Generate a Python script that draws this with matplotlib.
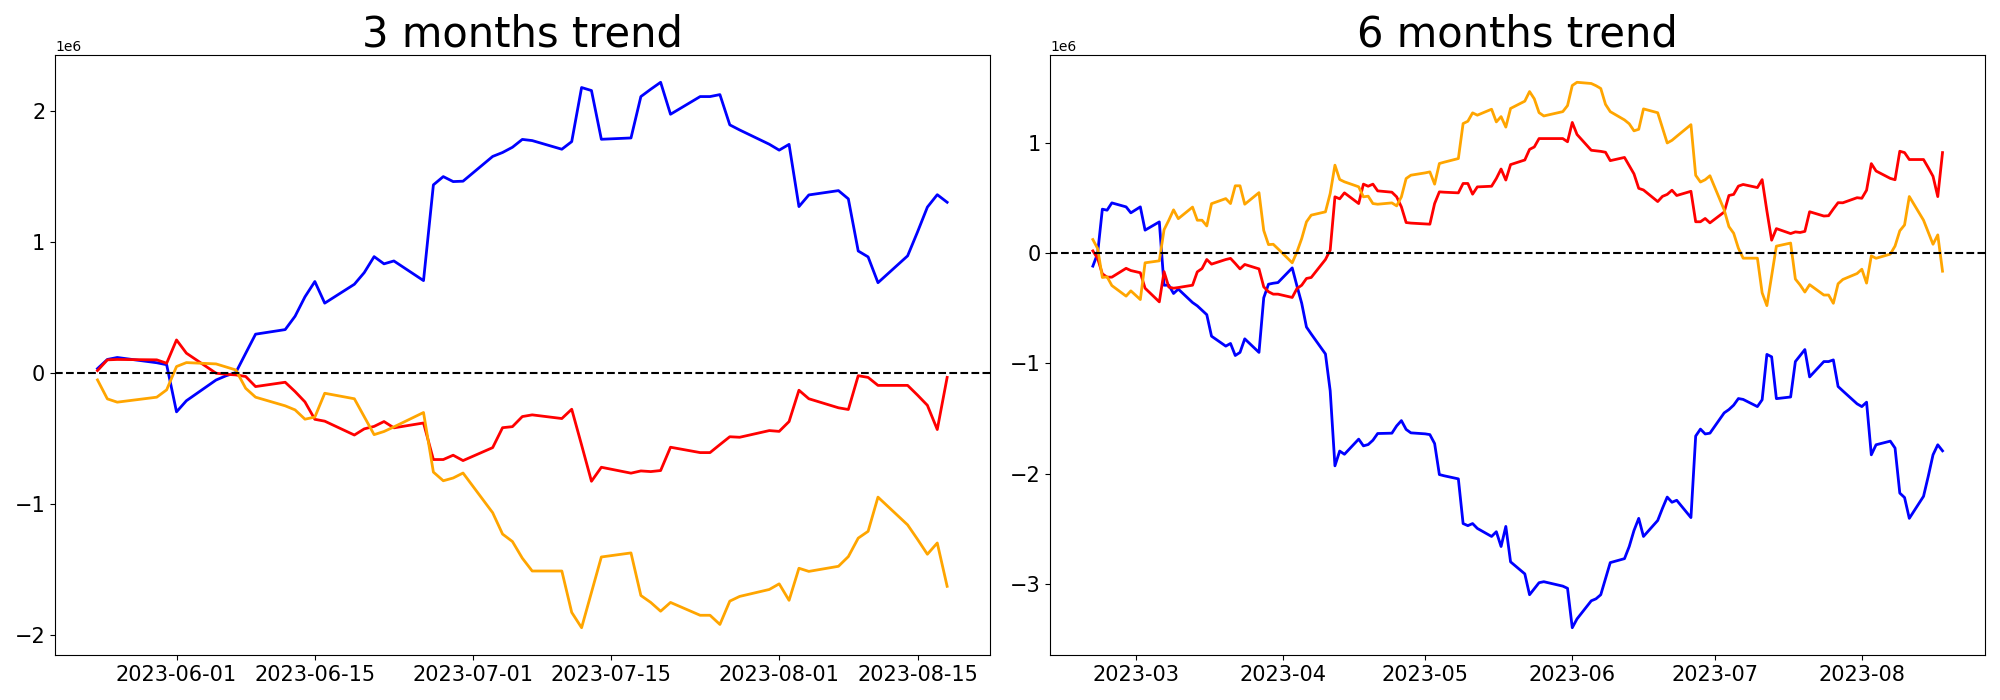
import matplotlib
matplotlib.use("Agg")
import matplotlib.pyplot as plt
import matplotlib.dates as mdates
import numpy as np
import pandas as pd

# ---------------- data (values in units of 1e6) ----------------
dates_3m = pd.bdate_range("2023-05-24", "2023-08-18", freq="C", holidays=["2023-05-29"])
dates_6m = pd.bdate_range("2023-02-20", "2023-08-18", freq="C", holidays=["2023-05-29"])

blue_3m = [0.03, 0.10, 0.115, 0.075, 0.06,
           -0.30, -0.215,
           -0.057, -0.025, 0.0, 0.147, 0.293,
           0.328, 0.43, 0.578, 0.695, 0.53,
           0.674, 0.763, 0.885, 0.83, 0.852,
           0.702, 1.433, 1.496, 1.458, 1.461,
           1.65, 1.68, 1.72, 1.78, 1.771,
           1.705, 1.763, 2.176, 2.153, 1.781,
           1.791, 2.107, 2.163, 2.216, 1.972,
           2.107, 2.107, 2.122, 1.891, 1.852,
           1.743, 1.698, 1.742, 1.267, 1.356,
           1.389, 1.326, 0.928, 0.883, 0.686,
           0.891, 1.073, 1.263, 1.358, 1.300]

red_3m = [0.015, 0.097, 0.10, 0.097, 0.071,
          0.249, 0.148,
          -0.005, -0.013, -0.018, -0.03, -0.107,
          -0.074, -0.145, -0.224, -0.357, -0.371,
          -0.477, -0.43, -0.411, -0.374, -0.422,
          -0.385, -0.664, -0.664, -0.631, -0.672,
          -0.573, -0.421, -0.413, -0.336, -0.323,
          -0.351, -0.28, -0.553, -0.83, -0.723,
          -0.768, -0.751, -0.756, -0.748, -0.57,
          -0.611, -0.611, -0.55, -0.49, -0.494,
          -0.443, -0.449, -0.374, -0.135, -0.2,
          -0.269, -0.282, -0.024, -0.037, -0.098,
          -0.098, -0.172, -0.25, -0.435, -0.037]

orange_3m = [-0.056, -0.201, -0.226, -0.188, -0.132,
             0.046, 0.076,
             0.066, 0.043, 0.02, -0.12, -0.188,
             -0.254, -0.285, -0.356, -0.34, -0.158,
             -0.2, -0.337, -0.474, -0.45, -0.415,
             -0.305, -0.76, -0.826, -0.805, -0.767,
             -1.07, -1.233, -1.29, -1.417, -1.515,
             -1.515, -1.831, -1.948, -1.678, -1.408,
             -1.377, -1.702, -1.755, -1.822, -1.755,
             -1.853, -1.853, -1.923, -1.745, -1.709,
             -1.656, -1.613, -1.739, -1.494, -1.518,
             -1.479, -1.405, -1.264, -1.212, -0.951,
             -1.163, -1.273, -1.387, -1.301, -1.632]

blue_6m = [-0.12, -0.006, 0.396, 0.387, 0.453,
           0.417, 0.363, 0.39, 0.417, 0.206,
           0.281, -0.293, -0.293, -0.368, -0.328,
           -0.45, -0.48, -0.52, -0.56, -0.755,
           -0.845, -0.821, -0.93, -0.902, -0.779,
           -0.902, -0.407, -0.284, -0.275, -0.269,
           -0.136, -0.30, -0.457, -0.672, -0.735,
           -0.916, -1.25, -1.93, -1.796, -1.825,
           -1.688, -1.749, -1.737, -1.698, -1.637,
           -1.634, -1.568, -1.52, -1.6, -1.631,
           -1.64, -1.647, -1.728, -2.009, -2.02,
           -2.048, -2.453, -2.472, -2.453, -2.497,
           -2.57, -2.527, -2.661, -2.479, -2.8,
           -2.909, -3.098, -3.044, -2.989, -2.98,
           -3.02, -3.04, -3.397, -3.317,
           -3.153, -3.135, -3.098, -2.953, -2.807,
           -2.771, -2.661, -2.516, -2.406, -2.57,
           -2.425, -2.315, -2.213, -2.26, -2.242,
           -2.399, -1.66, -1.597, -1.641, -1.634,
           -1.45, -1.42, -1.38, -1.32, -1.328,
           -1.393, -1.331, -0.92, -0.942, -1.321,
           -1.306, -0.985, -0.93, -0.876, -1.124,
           -0.985, -0.985, -0.97, -1.211, -1.251,
           -1.368, -1.393, -1.353, -1.83, -1.739,
           -1.706, -1.769, -2.177, -2.217, -2.406,
           -2.206, -2.024, -1.83, -1.739, -1.794]

red_6m = [0.018, -0.05, -0.19, -0.22, -0.22,
          -0.14, -0.16, -0.17, -0.18, -0.32,
          -0.444, -0.17, -0.31, -0.32, -0.314,
          -0.293, -0.172, -0.142, -0.06, -0.102,
          -0.06, -0.05, -0.096, -0.145, -0.105,
          -0.145, -0.308, -0.352, -0.374, -0.374,
          -0.404, -0.323, -0.293, -0.232, -0.223,
          -0.06, 0.025, 0.508, 0.49, 0.544,
          0.447, 0.623, 0.604, 0.623, 0.562,
          0.55, 0.508, 0.417, 0.275, 0.27,
          0.263, 0.26, 0.447, 0.553, 0.55,
          0.544, 0.629, 0.629, 0.532, 0.598,
          0.604, 0.674, 0.76, 0.66, 0.80,
          0.842, 0.938, 0.96, 1.036, 1.036,
          1.036, 1.007, 1.182, 1.073,
          0.93, 0.925, 0.92, 0.912, 0.836,
          0.865, 0.79, 0.716, 0.585, 0.57,
          0.465, 0.512, 0.53, 0.568, 0.52,
          0.558, 0.282, 0.282, 0.312, 0.272,
          0.37, 0.52, 0.53, 0.605, 0.62,
          0.592, 0.664, 0.38, 0.115, 0.22,
          0.175, 0.19, 0.185, 0.195, 0.373,
          0.334, 0.337, 0.398, 0.455, 0.454,
          0.5, 0.495, 0.568, 0.809, 0.742,
          0.675, 0.663, 0.921, 0.909, 0.846,
          0.846, 0.772, 0.694, 0.51, 0.909]

orange_6m = [0.121, 0.04, -0.223, -0.217, -0.296,
             -0.392, -0.344, -0.383, -0.423, -0.09,
             -0.072, 0.21, 0.296, 0.39, 0.31,
             0.415, 0.296, 0.296, 0.244, 0.446,
             0.492, 0.447, 0.608, 0.608, 0.441,
             0.546, 0.203, 0.075, 0.078, 0.037,
             -0.09, 0.009, 0.13, 0.281, 0.342,
             0.372, 0.538, 0.795, 0.665, 0.644,
             0.599, 0.508, 0.514, 0.447, 0.441,
             0.453, 0.426, 0.508, 0.674, 0.704,
             0.725, 0.734, 0.623, 0.81, 0.822,
             0.855, 1.172, 1.193, 1.269, 1.248,
             1.302, 1.187, 1.235, 1.14, 1.309,
             1.375, 1.462, 1.396, 1.271, 1.241,
             1.28, 1.335, 1.517, 1.546,
             1.535, 1.515, 1.49, 1.346, 1.28,
             1.205, 1.17, 1.106, 1.12, 1.305,
             1.27, 1.132, 0.996, 1.02, 1.056,
             1.162, 0.703, 0.642, 0.663, 0.699,
             0.39, 0.238, 0.178, 0.042, -0.048,
             -0.048, -0.362, -0.478, -0.206, 0.061,
             0.089, -0.237, -0.291, -0.355, -0.288,
             -0.382, -0.382, -0.457, -0.28, -0.241,
             -0.187, -0.148, -0.274, -0.027, -0.049,
             -0.011, 0.062, 0.2, 0.253, 0.511,
             0.296, 0.186, 0.078, 0.163, -0.166]

titles = ["3 months trend", "6 months trend"]
SCALE = 1e6

assert len(dates_3m) == len(blue_3m) == len(red_3m) == len(orange_3m), (len(dates_3m), len(blue_3m), len(red_3m), len(orange_3m))
assert len(dates_6m) == len(blue_6m) == len(red_6m) == len(orange_6m), (len(dates_6m), len(blue_6m), len(red_6m), len(orange_6m))

# ---------------- figure ----------------
fig, axes = plt.subplots(1, 2, figsize=(20, 7), dpi=100)
fig.subplots_adjust(left=0.0275, right=0.9925, bottom=0.0643, top=0.9214, wspace=0.065)

panels = [
    (dates_3m, blue_3m, red_3m, orange_3m),
    (dates_6m, blue_6m, red_6m, orange_6m),
]

for ax, (d, b, r, o), title in zip(axes, panels, titles):
    ax.plot(d, np.array(b) * SCALE, color="blue", linewidth=2)
    ax.plot(d, np.array(r) * SCALE, color="red", linewidth=2)
    ax.plot(d, np.array(o) * SCALE, color="orange", linewidth=2)
    ax.axhline(0, color="black", linestyle="--", linewidth=1.5)
    ax.set_title(title, fontsize=30)
    ax.tick_params(axis="both", labelsize=15)

axes[0].xaxis.set_major_locator(mdates.DayLocator(bymonthday=[1, 15]))
axes[0].xaxis.set_major_formatter(mdates.DateFormatter("%Y-%m-%d"))
axes[1].xaxis.set_major_locator(mdates.MonthLocator())
axes[1].xaxis.set_major_formatter(mdates.DateFormatter("%Y-%m"))

fig.savefig("out.png", dpi=100)
